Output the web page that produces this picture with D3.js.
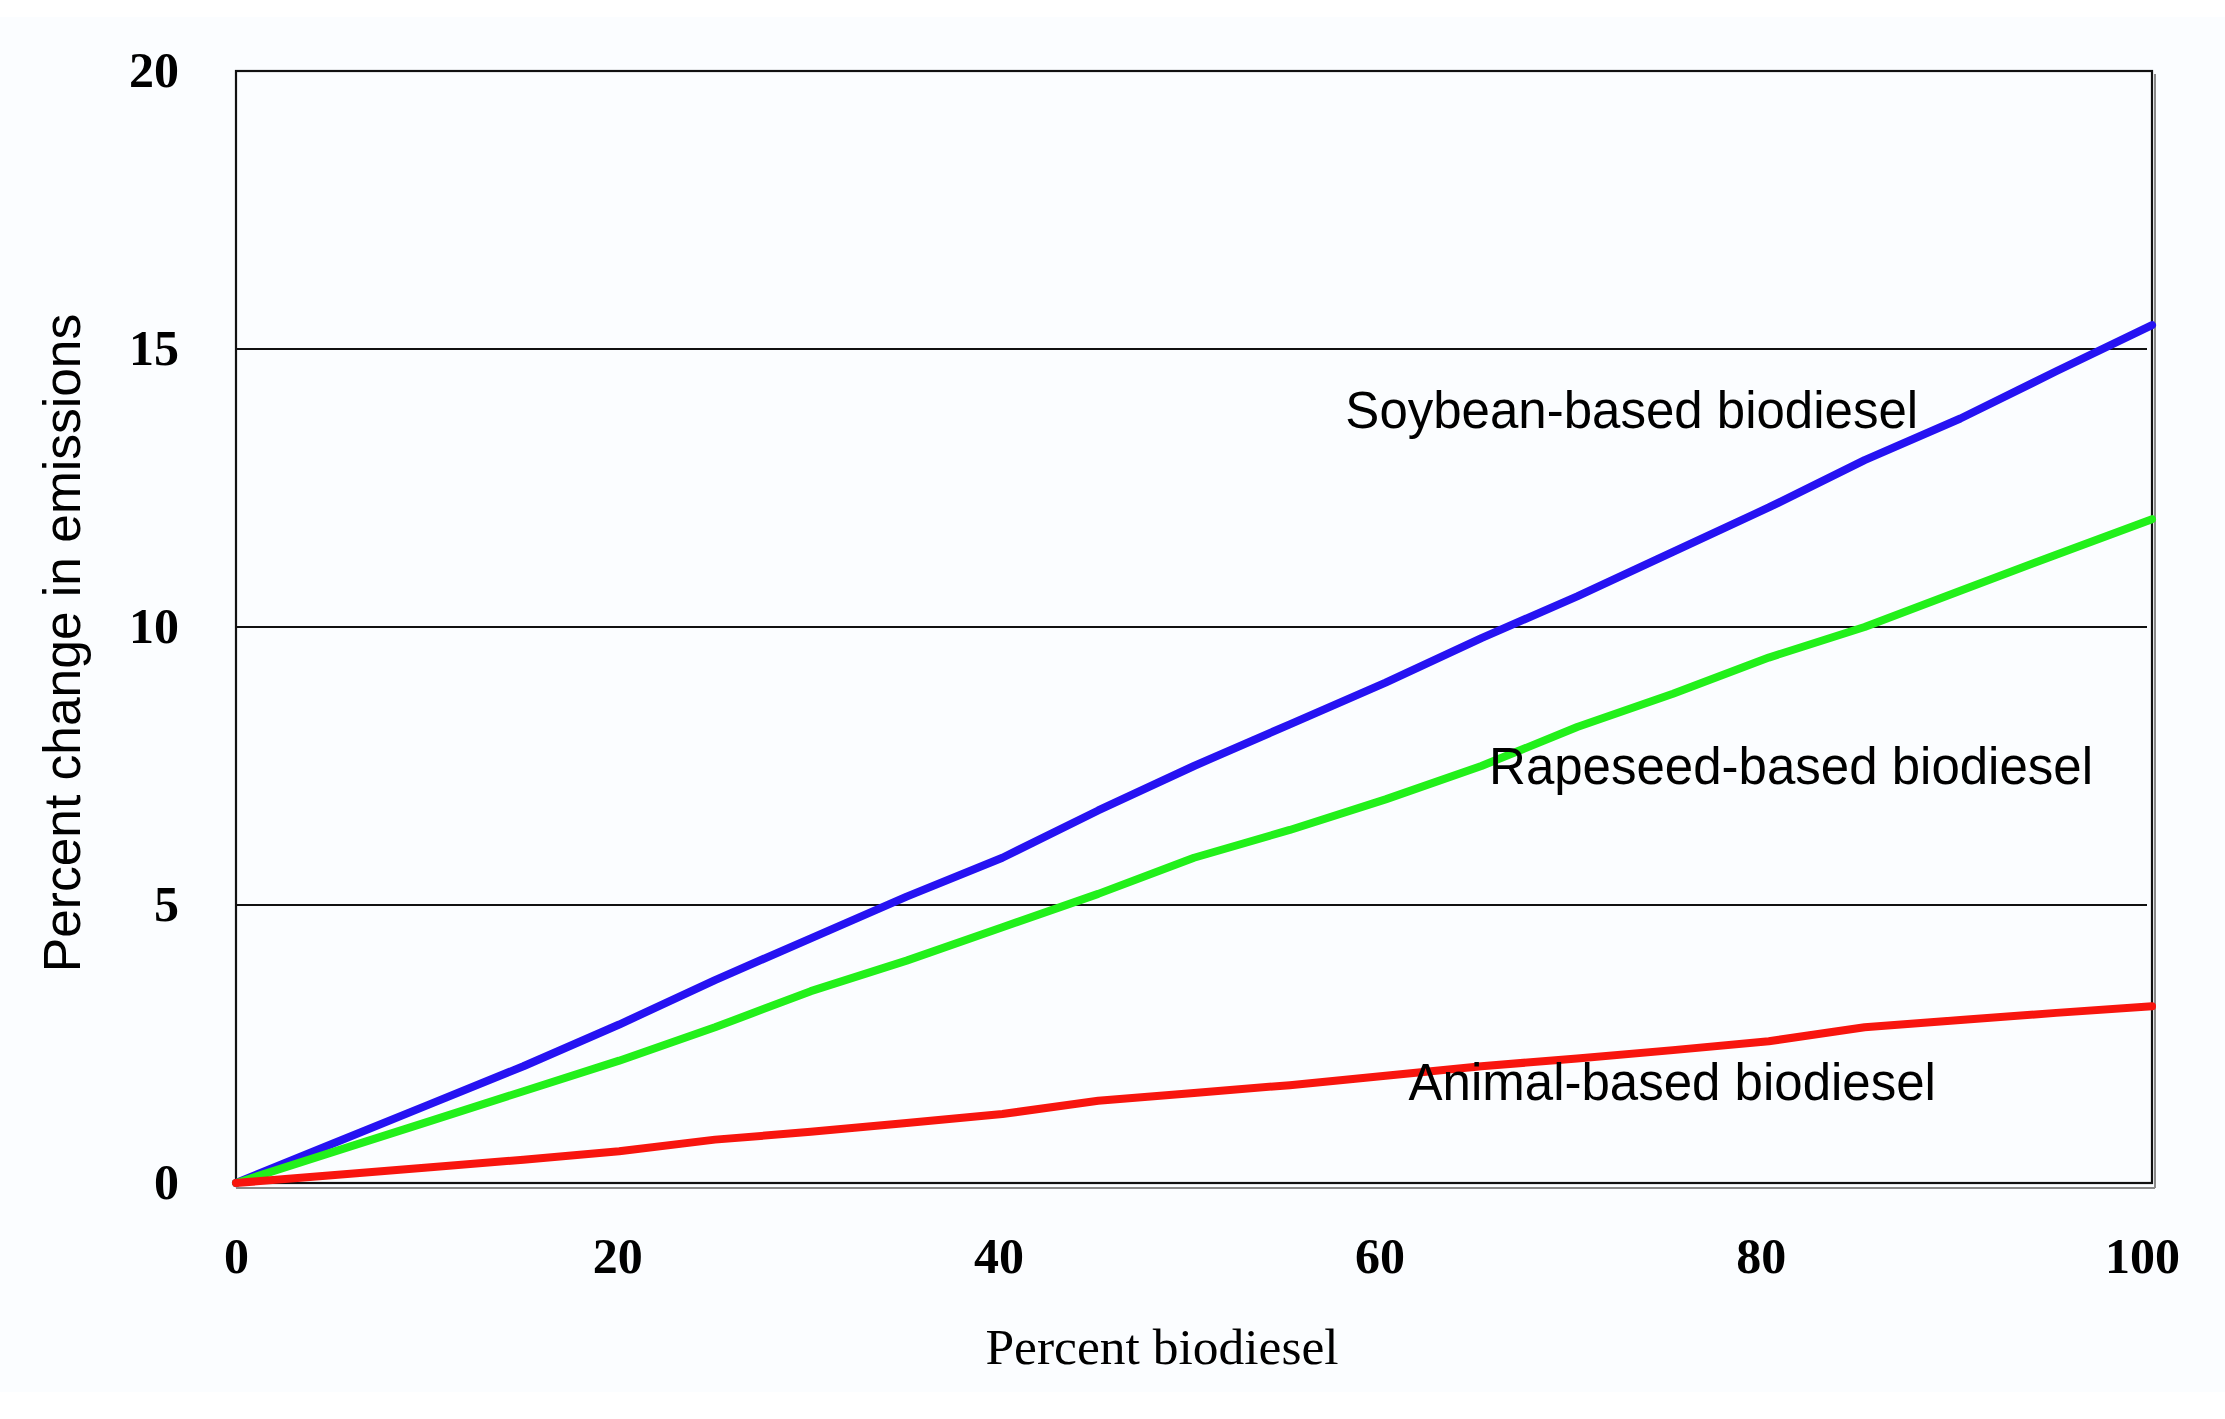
<!DOCTYPE html>
<html>
<head>
<meta charset="utf-8">
<script src="https://cdn.jsdelivr.net/npm/d3@7"></script>
<style>
  html, body { margin: 0; padding: 0; background: #ffffff; }
  svg { display: block; }
</style>
</head>
<body>
<div id="chart"></div>
<script>
// ---- data ----
const percentBiodiesel = [0, 5, 10, 15, 20, 25, 30, 35, 40, 45, 50, 55, 60, 65, 70, 75, 80, 85, 90, 95, 100];
const soybean = [0, 0.7, 1.4, 2.1, 2.85, 3.65, 4.4, 5.15, 5.85, 6.7, 7.5, 8.25, 9.0, 9.8, 10.55, 11.35, 12.15, 13.0, 13.75, 14.6, 15.43];
const rapeseed = [0, 0.55, 1.1, 1.65, 2.2, 2.8, 3.45, 4.0, 4.6, 5.2, 5.85, 6.35, 6.9, 7.5, 8.2, 8.8, 9.45, 10.0, 10.65, 11.3, 11.94];
const animal = [0, 0.14, 0.28, 0.42, 0.57, 0.78, 0.92, 1.08, 1.24, 1.48, 1.62, 1.76, 1.93, 2.1, 2.24, 2.39, 2.55, 2.8, 2.93, 3.06, 3.18];
const seriesNames = ["Soybean-based biodiesel", "Rapeseed-based biodiesel", "Animal-based biodiesel"];
const xTicks = [0, 20, 40, 60, 80, 100];
const yTicks = [0, 5, 10, 15, 20];
const xTitle = "Percent biodiesel";
const yTitle = "Percent change in emissions";

// ---- layout / style ----
const W = 2225, H = 1419;
const mLeft = 236, mRight = 2152, mTop = 71, mBottom = 1183;
const colors = ["#2612f2", "#22f01a", "#f8150e"];
// label anchor positions in data units (x start, baseline y)
const labelPos = [[57.9, 13.58], [65.4, 7.18], [61.2, 1.49]];

const svg = d3.select("#chart").append("svg").attr("width", W).attr("height", H);

svg.append("rect").attr("x", 0).attr("y", 17).attr("width", W).attr("height", 1375).attr("fill", "#fbfdff");

const x = d3.scaleLinear().domain([0, 100]).range([mLeft, mRight]);
const y = d3.scaleLinear().domain([0, 20]).range([mBottom, mTop]);

// shadow lines (bottom & right)
svg.append("line").attr("x1", mLeft).attr("x2", mRight + 3).attr("y1", mBottom + 5).attr("y2", mBottom + 5)
  .attr("stroke", "#8a8a8a").attr("stroke-width", 2);
svg.append("line").attr("x1", mRight + 3).attr("x2", mRight + 3).attr("y1", mTop + 3).attr("y2", mBottom + 5)
  .attr("stroke", "#8a8a8a").attr("stroke-width", 2);

// gridlines
svg.append("g").selectAll("line").data(yTicks.filter(d => d > 0 && d < 20)).join("line")
  .attr("x1", mLeft).attr("x2", mRight - 5)
  .attr("y1", d => y(d)).attr("y2", d => y(d))
  .attr("stroke", "#111").attr("stroke-width", 2);

// frame
svg.append("rect").attr("x", mLeft).attr("y", mTop).attr("width", mRight - mLeft).attr("height", mBottom - mTop)
  .attr("fill", "none").attr("stroke", "#111").attr("stroke-width", 2.2);

// axes (labels only) via d3 axes
const yAxis = d3.axisLeft(y).tickValues(yTicks).tickSize(0).tickPadding(57).tickFormat(d3.format("d"));
const gy = svg.append("g").attr("transform", `translate(${mLeft},0)`).call(yAxis);
gy.select(".domain").remove();
gy.selectAll("text").attr("font-family", "'Liberation Serif', 'Times New Roman', serif")
  .attr("font-weight", "bold").attr("font-size", 50).attr("fill", "#000").attr("dy", "0.30em");

const xAxis = d3.axisBottom(x).tickValues(xTicks).tickSize(0).tickPadding(0).tickFormat(d3.format("d"));
const gx = svg.append("g").attr("transform", `translate(0,${mBottom})`).call(xAxis);
gx.select(".domain").remove();
gx.selectAll("text").attr("font-family", "'Liberation Serif', 'Times New Roman', serif")
  .attr("font-weight", "bold").attr("font-size", 50).attr("fill", "#000").attr("dy", null).attr("y", 90)
  .attr("dx", d => -d * 0.1);

// series lines
const seriesData = [soybean, rapeseed, animal];
const line = d3.line().x((d, i) => x(percentBiodiesel[i])).y(d => y(d));
svg.append("g").selectAll("path").data(seriesData).join("path")
  .attr("d", d => line(d))
  .attr("fill", "none")
  .attr("stroke", (d, i) => colors[i])
  .attr("stroke-width", 8)
  .attr("stroke-linejoin", "round")
  .attr("stroke-linecap", "round");

// series labels
svg.append("g").selectAll("text").data(seriesNames).join("text")
  .attr("x", (d, i) => x(labelPos[i][0]))
  .attr("y", (d, i) => y(labelPos[i][1]))
  .attr("font-family", "'Liberation Sans', Arial, sans-serif")
  .attr("font-size", 51).attr("fill", "#000")
  .text(d => d);

// axis titles
svg.append("text").attr("x", 1162).attr("y", 1364)
  .attr("text-anchor", "middle")
  .attr("font-family", "'Liberation Serif', 'Times New Roman', serif")
  .attr("font-size", 51.5).attr("fill", "#000").text(xTitle);

svg.append("text").attr("transform", `translate(80,643) rotate(-90)`)
  .attr("text-anchor", "middle")
  .attr("font-family", "'Liberation Sans', Arial, sans-serif")
  .attr("font-size", 51.5).attr("fill", "#000").text(yTitle);
</script>
</body>
</html>
